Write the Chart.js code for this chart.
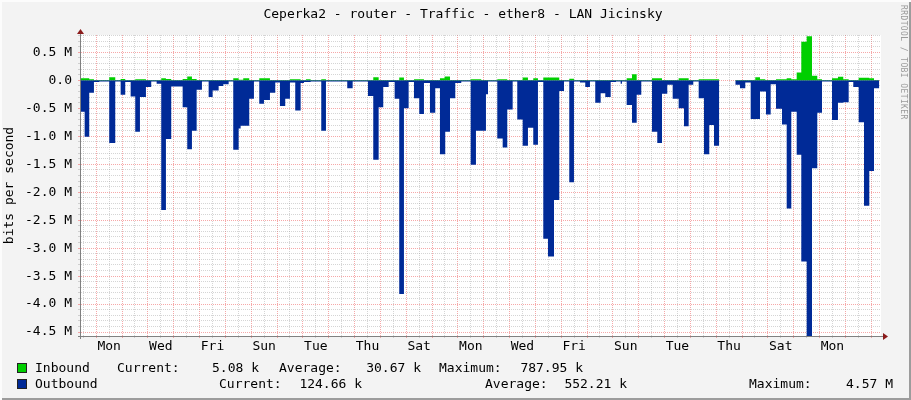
<!DOCTYPE html>
<html lang="en">
<head>
<meta charset="UTF-8">
<title>Ceperka2 - router - Traffic - ether8 - LAN Jicinsky</title>
<script src="https://cdn.jsdelivr.net/npm/chart.js"></script>
<style>
    body { margin: 0; background: #f3f3f3; font-family: 'DejaVu Sans Mono', monospace; }
    #wrap { position: relative; width: 911px; height: 400px; background: #f3f3f3; overflow: hidden; }
    #chart { position: absolute; left: 0; top: 0; }
    #frame { position: absolute; left: 0; top: 0; width: 911px; height: 400px; pointer-events: none;
             box-shadow: inset 2px 2px 0 #fcfcfc, inset -2px -2px 0 #9c9c9c; }
    .t { position: absolute; font-size: 13px; line-height: 16px; color: #000; white-space: pre; }
    .sq { position: absolute; width: 8px; height: 8px; border: 1px solid #222; }
    #title { position: absolute; top: 6px; left: 0; width: 926px; text-align: center; font-size: 13px; line-height: 16px; }
    #mark { position: absolute; left: 899px; top: 5px; writing-mode: vertical-rl; font-size: 8px; color: #9a9a9a; letter-spacing: 0.4px; }
</style>
</head>
<body>
<div id="wrap">
    <canvas id="chart" width="911" height="400"></canvas>
    <div id="title">Ceperka2 - router - Traffic - ether8 - LAN Jicinsky</div>
    <div id="mark">RRDTOOL / TOBI OETIKER</div>

    <div class="sq" style="left:17px; top:363px; background:#00cf00"></div>
    <div class="t" style="left:35px; top:360px">Inbound</div>
    <div class="t" style="left:117px; top:360px">Current:</div>
    <div class="t" style="right:652px; top:360px">5.08 k</div>
    <div class="t" style="left:279px; top:360px">Average:</div>
    <div class="t" style="right:490px; top:360px">30.67 k</div>
    <div class="t" style="left:439px; top:360px">Maximum:</div>
    <div class="t" style="right:328px; top:360px">787.95 k</div>

    <div class="sq" style="left:17px; top:379px; background:#002a97"></div>
    <div class="t" style="left:35px; top:376px">Outbound</div>
    <div class="t" style="left:219px; top:376px">Current:</div>
    <div class="t" style="right:549px; top:376px">124.66 k</div>
    <div class="t" style="left:485px; top:376px">Average:</div>
    <div class="t" style="right:284px; top:376px">552.21 k</div>
    <div class="t" style="left:749px; top:376px">Maximum:</div>
    <div class="t" style="right:18px; top:376px">4.57 M</div>

    <div id="frame"></div>
</div>
<script>
    // time in days, midnight of the first Monday = 0
    const xMin = -0.59;
    const xMax = 30.38;
    const yMin = -4.57;   // M bits/s
    const yMax = 0.81;

    const dayNames = ['Mon', 'Wed', 'Fri', 'Sun', 'Tue', 'Thu', 'Sat', 'Mon', 'Wed', 'Fri', 'Sun', 'Tue', 'Thu', 'Sat', 'Mon'];
    const labelDays = [0.5, 2.5, 4.5, 6.5, 8.5, 10.5, 12.5, 14.5, 16.5, 18.5, 20.5, 22.5, 24.5, 26.5, 28.5];

    // outbound (drawn negative), step start times and values in Mbit/s
    const outDays = [
        -0.59, -0.449, -0.271, -0.089, 0.116, 0.503, 0.736, 0.945, 1.123, 1.332,
        1.510, 1.692, 1.924, 2.129, 2.338, 2.516, 2.698, 2.903, 3.345, 3.523,
        3.705, 3.887, 4.092, 4.351, 4.506, 4.739, 4.917, 5.126, 5.304, 5.513,
        5.590, 5.923, 6.105, 6.311, 6.493, 6.725, 6.930, 7.112, 7.317, 7.499,
        7.704, 7.913, 8.041, 8.300, 8.711, 8.893, 9.717, 9.926, 10.519, 10.724,
        10.933, 11.111, 11.320, 11.552, 11.730, 11.912, 12.094, 12.300, 12.505, 12.687,
        12.919, 13.124, 13.306, 13.511, 13.694, 13.899, 14.131, 14.495, 14.700, 15.087,
        15.165, 15.525, 15.734, 15.912, 16.121, 16.299, 16.508, 16.713, 16.918, 17.100,
        17.306, 17.487, 17.720, 17.925, 18.107, 18.312, 18.494, 18.726, 18.931, 19.113,
        19.318, 19.528, 19.706, 19.915, 20.120, 20.302, 20.352, 20.534, 20.740, 20.922,
        21.100, 21.514, 21.719, 21.901, 22.106, 22.315, 22.547, 22.753, 22.934, 23.113,
        23.322, 23.527, 23.732, 23.914, 24.119, 24.274, 24.739, 24.921, 25.126, 25.335,
        25.695, 25.927, 26.109, 26.315, 26.547, 26.729, 26.907, 27.116, 27.294, 27.503,
        27.708, 27.913, 28.095, 28.482, 28.714, 28.919, 29.129, 29.307, 29.516, 29.722,
        29.927, 30.109, 30.314
    ];
    const outMbps = [
        -0.56, -1.01, -0.22, -0.03, -0.02, -1.12, -0.02, -0.26, -0.03, -0.29,
        -0.92, -0.30, -0.12, -0.02, -0.06, -2.32, -1.05, -0.11, -0.48, -1.23,
        -0.90, -0.17, -0.02, -0.30, -0.18, -0.10, -0.07, -0.02, -1.24, -0.86,
        -0.81, -0.33, -0.02, -0.42, -0.35, -0.22, -0.04, -0.46, -0.33, -0.04,
        -0.54, -0.05, -0.03, -0.02, -0.90, -0.02, -0.14, -0.02, -0.28, -1.42,
        -0.48, -0.12, -0.03, -0.33, -3.82, -0.50, -0.03, -0.32, -0.60, -0.05,
        -0.58, -0.14, -1.32, -0.92, -0.32, -0.05, -0.02, -1.51, -0.90, -0.25,
        -0.02, -1.04, -1.20, -0.52, -0.02, -0.70, -1.17, -0.85, -1.15, -0.03,
        -2.83, -3.15, -2.14, -0.19, -0.02, -1.82, -0.02, -0.04, -0.12, -0.02,
        -0.40, -0.23, -0.30, -0.03, -0.02, -0.06, -0.02, -0.44, -0.76, -0.26,
        -0.02, -0.92, -1.12, -0.24, -0.08, -0.33, -0.50, -0.82, -0.08, -0.02,
        -0.32, -1.32, -0.80, -1.17, -0.02, null, -0.08, -0.14, -0.04, -0.69,
        -0.20, -0.61, -0.07, -0.51, -0.79, -2.29, -0.56, -1.33, -3.24, -4.57,
        -1.57, -0.58, -0.02, -0.71, -0.40, -0.39, -0.03, -0.12, -0.75, -2.24,
        -1.62, -0.14, -0.14
    ];

    // inbound, step start times and values in Mbit/s
    const inDays = [
        -0.59, -0.271, -0.089, 0.503, 0.736, 0.945, 1.123, 1.510, 1.924, 2.516,
        2.698, 2.903, 3.345, 3.523, 3.705, 3.887, 5.304, 5.513, 5.691, 5.923,
        6.311, 6.725, 7.499, 7.913, 8.118, 8.300, 8.711, 8.893, 10.724, 10.933,
        11.730, 11.912, 12.300, 12.687, 13.306, 13.488, 13.694, 14.495, 14.905, 15.525,
        15.912, 16.508, 16.713, 16.918, 17.100, 17.306, 17.925, 18.312, 18.494, 20.534,
        20.740, 20.922, 21.514, 21.901, 22.547, 22.934, 23.322, 24.119, 24.274, 24.739,
        25.513, 25.695, 25.900, 26.315, 26.729, 26.907, 27.116, 27.294, 27.503, 27.708,
        27.913, 28.095, 28.482, 28.714, 28.919, 29.129, 29.516, 29.927, 30.109, 30.314
    ];
    const inMbps = [
        0.035, 0.02, 0.005, 0.055, 0.005, 0.025, 0.005, 0.02, 0.005, 0.035,
        0.025, 0.005, 0.025, 0.07, 0.025, 0.005, 0.035, 0.01, 0.035, 0.005,
        0.035, 0.005, 0.02, 0.005, 0.02, 0.005, 0.02, 0.005, 0.055, 0.005,
        0.05, 0.005, 0.02, 0.005, 0.035, 0.07, 0.005, 0.02, 0.005, 0.02,
        0.005, 0.05, 0.005, 0.035, 0.005, 0.05, 0.005, 0.03, 0.005, 0.035,
        0.11, 0.005, 0.035, 0.005, 0.035, 0.005, 0.02, 0.005, null, 0.005,
        0.055, 0.02, 0.005, 0.02, 0.035, 0.02, 0.14, 0.69, 0.786, 0.08,
        0.02, 0.005, 0.035, 0.065, 0.02, 0.005, 0.045, 0.035, 0.005, 0.005
    ];

    const majorGrid = 'rgba(240, 110, 110, 0.6)';
    const minorGrid = 'rgba(150, 150, 150, 0.4)';
    const font = { family: "'DejaVu Sans Mono', monospace", size: 13 };

    function isMult(v, step) {
        const r = v / step;
        return Math.abs(r - Math.round(r)) < 1e-6;
    }

    // axis lines with rrdtool style arrow heads
    const axisArrows = {
        id: 'axisArrows',
        afterDatasetsDraw(chart) {
            const { ctx, chartArea: a } = chart;
            ctx.save();
            ctx.strokeStyle = '#808080';
            ctx.lineWidth = 1;
            ctx.beginPath();
            ctx.moveTo(a.left - 3, a.bottom + 0.5);
            ctx.lineTo(a.right + 3, a.bottom + 0.5);
            ctx.moveTo(a.left - 0.5, a.bottom + 3);
            ctx.lineTo(a.left - 0.5, a.top - 2);
            ctx.stroke();
            ctx.fillStyle = '#8b1c1c';
            ctx.beginPath();
            ctx.moveTo(a.right + 2, a.bottom - 3);
            ctx.lineTo(a.right + 7, a.bottom + 0.5);
            ctx.lineTo(a.right + 2, a.bottom + 4);
            ctx.fill();
            ctx.beginPath();
            ctx.moveTo(a.left - 4, a.top - 1);
            ctx.lineTo(a.left - 0.5, a.top - 6);
            ctx.lineTo(a.left + 3, a.top - 1);
            ctx.fill();
            ctx.restore();
        }
    };

    const plotBg = {
        id: 'plotBg',
        beforeDraw(chart) {
            const { ctx, chartArea: a } = chart;
            ctx.save();
            ctx.fillStyle = '#ffffff';
            ctx.fillRect(a.left, a.top, a.right - a.left, a.bottom - a.top);
            ctx.restore();
        }
    };

    new Chart(document.getElementById('chart'), {
        type: 'line',
        data: {
            datasets: [
                {
                    label: 'Inbound',
                    data: inDays.map((d, i) => ({ x: d, y: inMbps[i] })),
                    stepped: true,
                    fill: 'origin',
                    backgroundColor: '#00cf00',
                    borderColor: 'rgba(0,0,0,0)',
                    borderWidth: 0,
                    pointRadius: 0
                },
                {
                    label: 'Outbound',
                    data: outDays.map((d, i) => ({ x: d, y: outMbps[i] })),
                    stepped: true,
                    fill: 'origin',
                    backgroundColor: '#002a97',
                    borderColor: 'rgba(0,0,0,0)',
                    borderWidth: 0,
                    pointRadius: 0
                }
            ]
        },
        options: {
            responsive: false,
            animation: false,
            devicePixelRatio: 1,
            layout: { padding: { top: 35, right: 30, bottom: 0, left: 0 } },
            plugins: { legend: { display: false }, tooltip: { enabled: false }, title: { display: false } },
            scales: {
                x: {
                    type: 'linear',
                    min: xMin,
                    max: xMax,
                    afterBuildTicks: s => {
                        s.ticks = [];
                        for (let v = Math.ceil(xMin * 2) / 2; v <= xMax; v += 0.5) s.ticks.push({ value: v });
                    },
                    afterFit: s => { s.height = 64; },
                    grid: {
                        color: c => isMult(c.tick.value, 1) ? majorGrid : minorGrid,
                        tickLength: 2
                    },
                    border: { display: false, dash: [1, 1] },
                    ticks: {
                        autoSkip: false,
                        maxRotation: 0,
                        padding: 1,
                        color: '#000',
                        font: font,
                        callback: v => {
                            const i = labelDays.indexOf(v);
                            return i >= 0 ? dayNames[i] : '';
                        }
                    }
                },
                y: {
                    type: 'linear',
                    min: yMin,
                    max: yMax,
                    afterBuildTicks: s => {
                        s.ticks = [];
                        for (let k = Math.ceil(yMin * 10); k <= Math.floor(yMax * 10); k++) s.ticks.push({ value: k / 10 });
                    },
                    afterFit: s => { s.width = 81; },
                    grid: {
                        color: c => isMult(c.tick.value, 0.5) ? majorGrid : minorGrid,
                        tickLength: 3
                    },
                    border: { display: false, dash: [1, 1] },
                    ticks: {
                        autoSkip: false,
                        padding: 6,
                        color: '#000',
                        font: font,
                        callback: v => {
                            if (!isMult(v, 0.5)) return '';
                            if (Math.abs(v) < 1e-9) return '0.0';
                            return v.toFixed(1) + ' M';
                        }
                    },
                    title: {
                        display: true,
                        text: 'bits per second',
                        color: '#000',
                        font: font,
                        padding: { top: 2, bottom: 0 }
                    }
                }
            }
        },
        plugins: [plotBg, axisArrows]
    });
</script>
</body>
</html>
